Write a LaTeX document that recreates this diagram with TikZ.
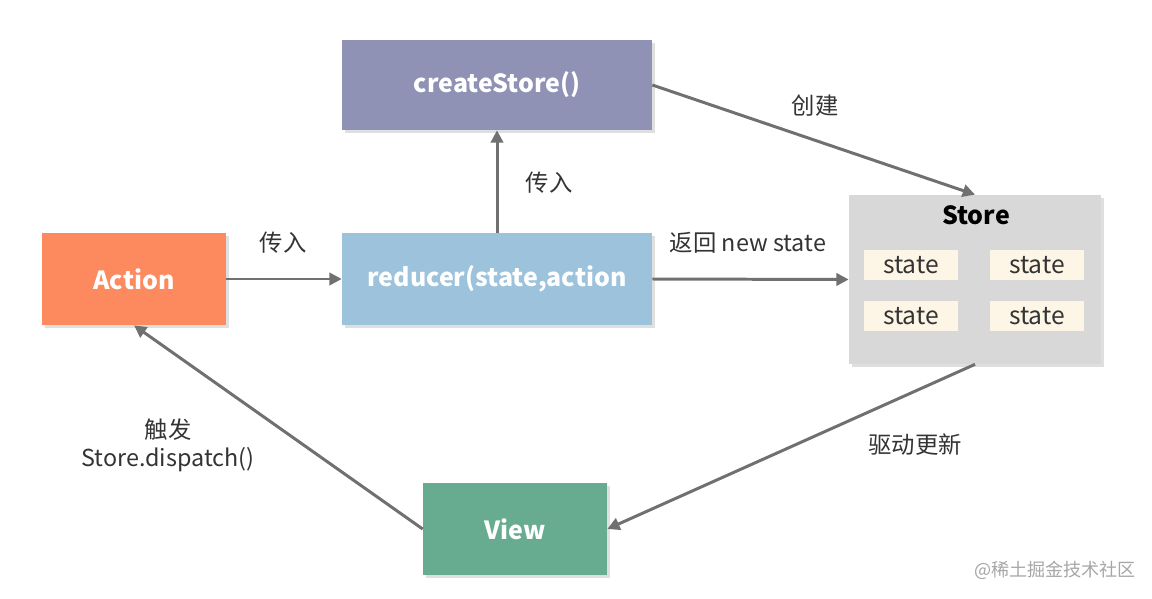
\documentclass[tikz,border=0pt]{standalone}
\usepackage{fontspec}
\setmainfont{Noto Sans CJK SC}
\usepackage{xcolor}
\usetikzlibrary{arrows.meta, positioning, shadows}

\definecolor{boxCreate}{RGB}{143,145,181}
\definecolor{boxAction}{RGB}{253,138,95}
\definecolor{boxReducer}{RGB}{157,195,220}
\definecolor{boxView}{RGB}{103,171,145}
\definecolor{boxStore}{RGB}{216,216,216}
\definecolor{boxState}{RGB}{253,246,230}
\definecolor{lineGray}{RGB}{112,112,112}
\definecolor{labelGray}{RGB}{51,51,51}

\begin{document}
\begin{tikzpicture}[x=0.02cm, y=-0.02cm,
  font=\fontsize{13.3}{16}\selectfont,
  block/.style={shape=rectangle, inner sep=0pt, text=white, font=\fontsize{14.2}{17}\selectfont\bfseries,
    drop shadow={shadow xshift=1.5pt, shadow yshift=-1.5pt, opacity=0.25}},
  statebox/.style={shape=rectangle, fill=boxState, inner sep=0pt, minimum width=1.88cm, minimum height=0.6cm, text=labelGray,
    font=\fontsize{14}{16}\selectfont},
  flow/.style={draw=lineGray, line width=1.7pt, -{Triangle[length=7pt, width=7pt]}},
  tag/.style={text=labelGray, inner sep=1pt, align=center}
]
\useasboundingbox (0,0) rectangle (1152,598);

%------------- Boxes
	\node[block, fill=boxCreate, minimum width=6.2cm, minimum height=1.8cm] (CreateStore) at (497, 85) {createStore()};
	\node[block, fill=boxAction, minimum width=3.68cm, minimum height=1.84cm] (Action) at (134, 279) {Action};
	\node[block, fill=boxReducer, minimum width=6.2cm, minimum height=1.84cm] (Reducer) at (497, 279) {reducer(state,action};
	\node[block, fill=boxView, minimum width=3.68cm, minimum height=1.84cm] (View) at (515, 529) {View};

%------------- Store
	\node[block, fill=boxStore, minimum width=5.04cm, minimum height=3.38cm] (Store) at (975, 279.5) {};
	\node[text=black, font=\fontsize{14.2}{17}\selectfont\bfseries] (Store_Title) at (976, 215) {Store};
	\node[statebox] (State_A) at (911, 265) {state};
	\node[statebox] (State_B) at (1037, 265) {state};
	\node[statebox] (State_C) at (911, 316) {state};
	\node[statebox] (State_D) at (1037, 316) {state};

%------------- Connectors
	\draw[flow] (Action.east) -- (Reducer.west);
	\draw[flow] (Reducer.north) -- (CreateStore.south);
	\draw[flow] (CreateStore.east) -- (Store.north);
	\draw[flow] (Reducer.east) -- (Store.west);
	\draw[flow] (Store.south) -- (View.east);
	\draw[flow] (View.west) -- (Action.south);

%------------- Labels
	\node[tag] (Pass_Action) at (283, 243) {传入};
	\node[tag] (Pass_Reducer) at (549, 183) {传入};
	\node[tag] (Create) at (815, 106) {创建};
	\node[tag] (Return_State) at (748, 243) {返回 new state};
	\node[tag] (Drive_Update) at (915, 445) {驱动更新};
	\node[tag] (Dispatch) at (168, 445) {触发\\Store.dispatch()};

	\node[text=gray!70, font=\fontsize{10.3}{12}\selectfont] (Mark) at (1055, 570) {@稀土掘金技术社区};

\end{tikzpicture}
\end{document}
